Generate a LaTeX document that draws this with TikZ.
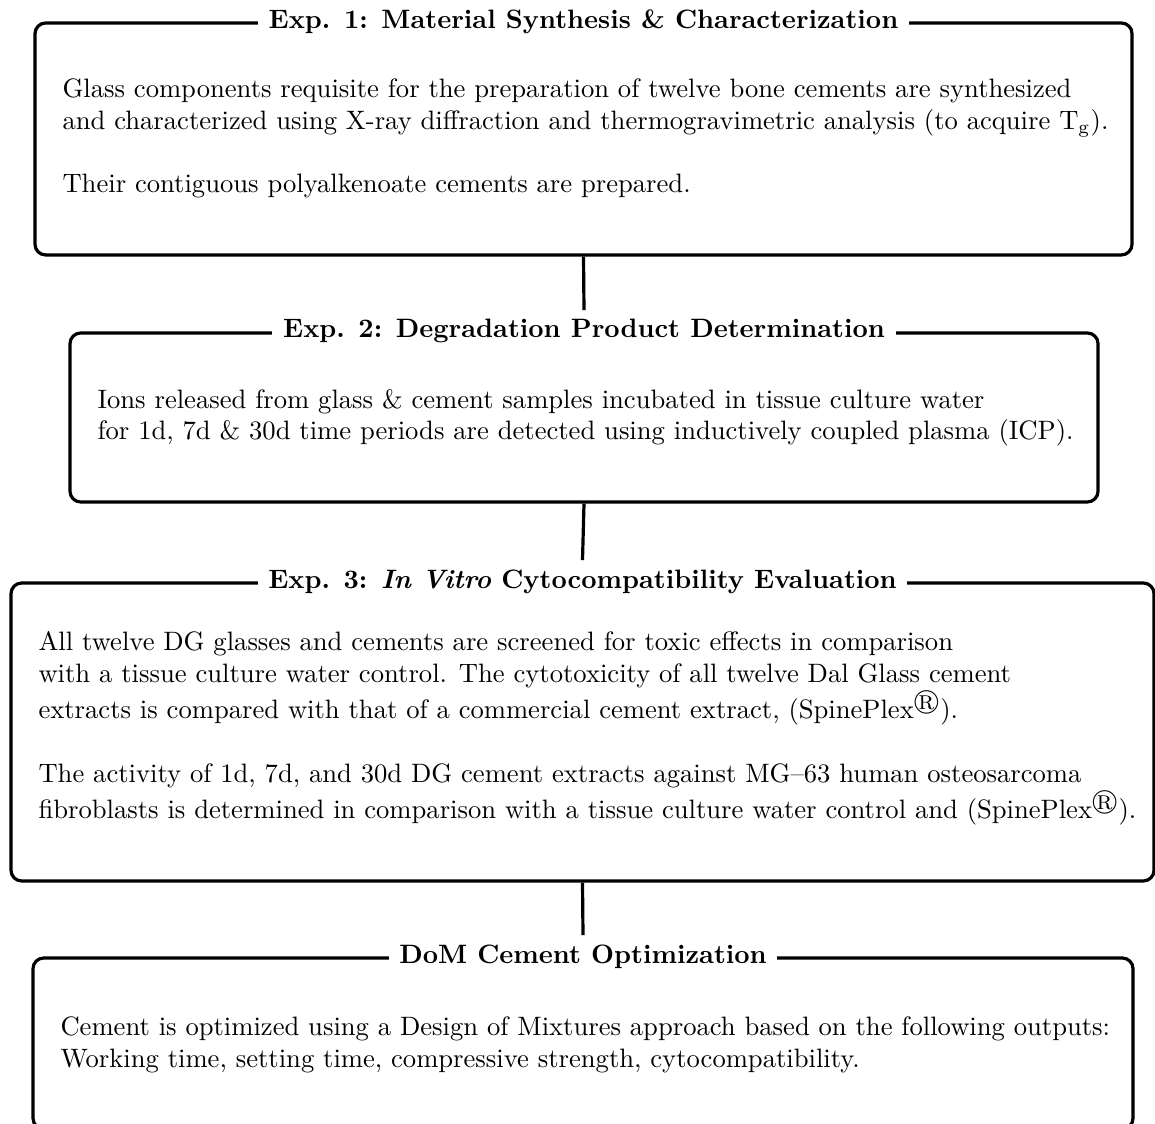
\documentclass[tikz,border=0pt]{standalone}
\usepackage{amssymb}
\usetikzlibrary{fit}
\begin{document}
\begin{tikzpicture}[x=0.3758pt,y=-0.3758pt,
  box/.style={draw, line width=1.2pt, rounded corners=4pt, inner sep=0pt},
  title/.style={fill=white, font=\bfseries, inner xsep=4pt, inner ysep=3.33pt},
  body/.style={anchor=base west, align=left, inner sep=0pt},
  conn/.style={line width=1.2pt}]
\useasboundingbox (0,0) rectangle (1155,1124);

% Box 1
\node[box, fit={(35,23) (1132,255)}] (b1) {};
\node[title] (h1) at (b1.north) {Exp. 1: Material Synthesis \& Characterization};
\node[body] (p1) at (62,193) {Glass components requisite for the preparation of twelve bone cements are synthesized\\
and characterized using X-ray diffraction and thermogravimetric analysis (to acquire $\mathrm{T_g}$).\\[12pt]
Their contiguous polyalkenoate cements are prepared.};

% Box 2
\node[box, fit={(70,333) (1098,502)}] (b2) {};
\node[title] (h2) at (b2.north) {Exp. 2: Degradation Product Determination};
\node[body] (p2) at (97,440) {Ions released from glass \& cement samples incubated in tissue culture water\\
for 1d, 7d \& 30d time periods are detected using inductively coupled plasma (ICP).};

% Box 3
\node[box, fit={(11,583) (1154,881)}] (b3) {};
\node[title] (h3) at (b3.north) {Exp. 3: \textit{In Vitro} Cytocompatibility Evaluation};
\node[body] (p3) at (38,819) {All twelve DG glasses and cements are screened for toxic effects in comparison\\
with a tissue culture water control. The cytotoxicity of all twelve Dal Glass cement\\
extracts is compared with that of a commercial cement extract, (SpinePlex$^{\circledR}$).\\[12pt]
The activity of 1d, 7d, and 30d DG cement extracts against MG--63 human osteosarcoma\\
fibroblasts is determined in comparison with a tissue culture water control and (SpinePlex$^{\circledR}$).};

% Box 4
\node[box, fit={(33,958) (1133,1129)}] (b4) {};
\node[title] (h4) at (b4.north) {DoM Cement Optimization};
\node[body] (p4) at (60,1067) {Cement is optimized using a Design of Mixtures approach based on the following outputs:\\
Working time, setting time, compressive strength, cytocompatibility.};

% Connectors
\draw[conn] (b1.south) -- (h2.north);
\draw[conn] (b2.south) -- (h3.north);
\draw[conn] (b3.south) -- (h4.north);
\end{tikzpicture}
\end{document}
